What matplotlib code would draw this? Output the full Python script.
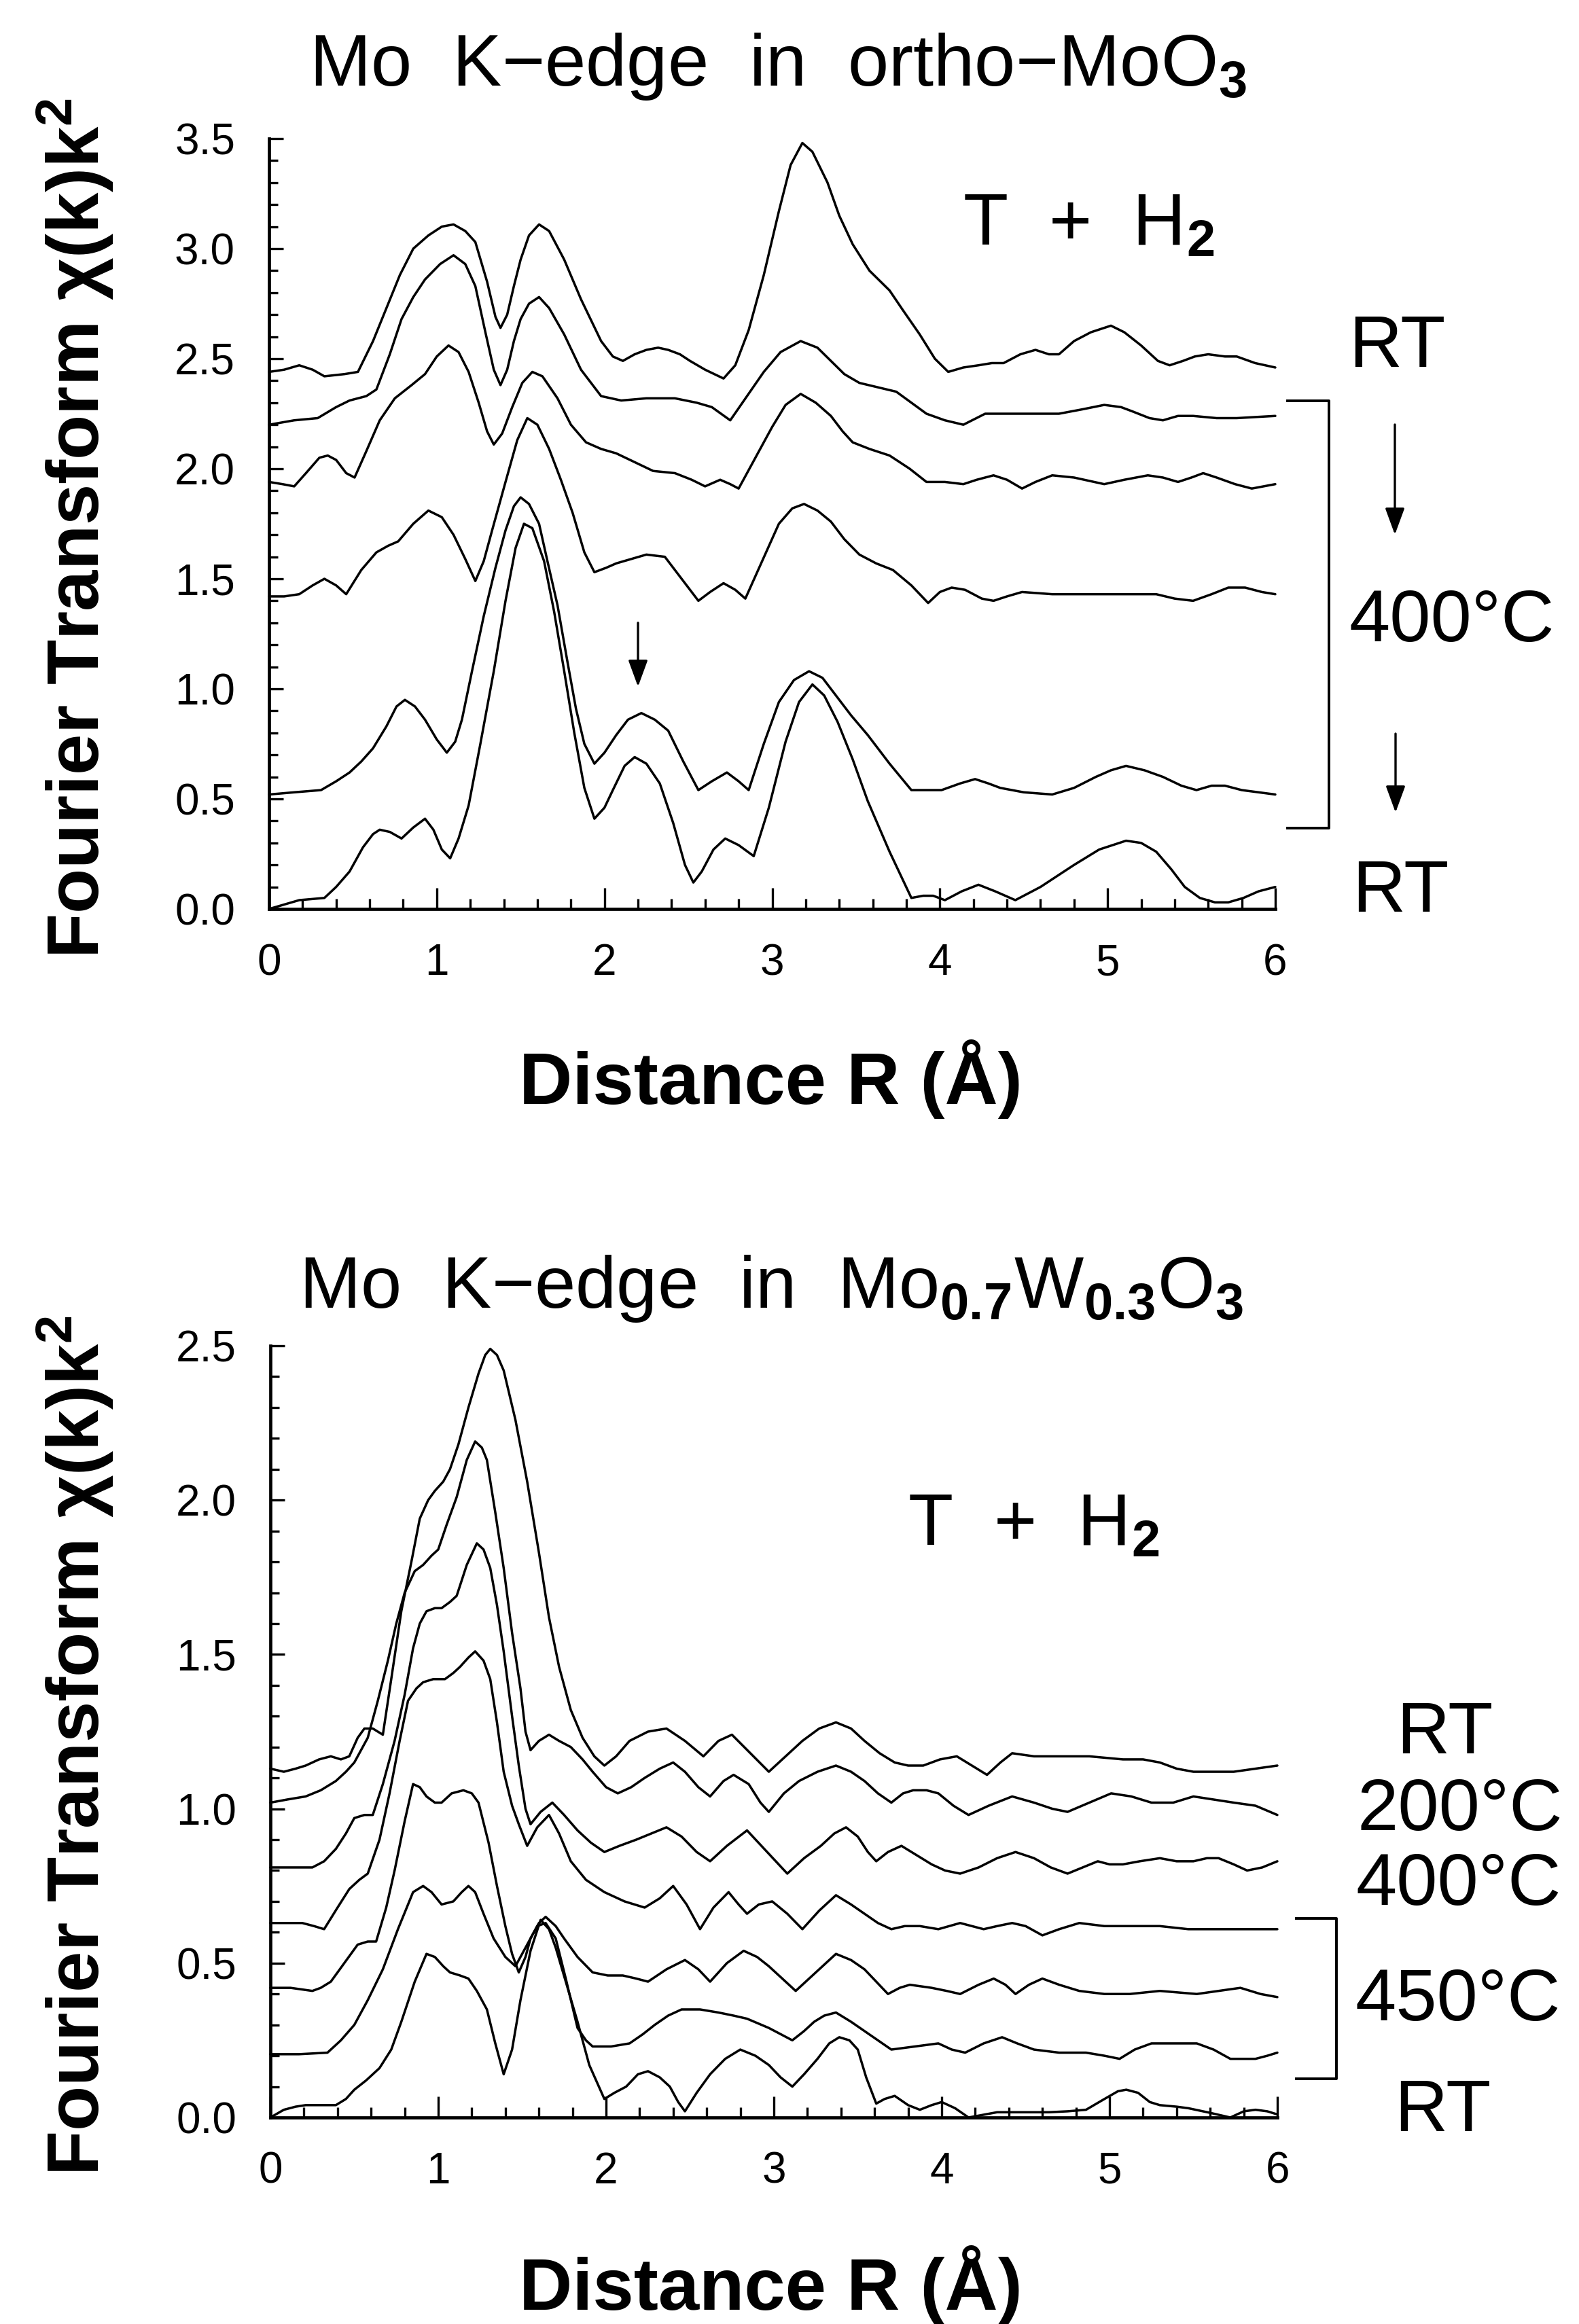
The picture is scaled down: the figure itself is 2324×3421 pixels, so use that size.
import matplotlib
matplotlib.use("Agg")
import matplotlib.pyplot as plt
from matplotlib.ticker import MultipleLocator, FormatStrFormatter
from matplotlib.lines import Line2D

plt.rcParams['font.family'] = ['Liberation Sans', 'DejaVu Sans']
plt.rcParams['mathtext.fontset'] = 'custom'
plt.rcParams['mathtext.rm'] = 'Liberation Sans'
plt.rcParams['mathtext.bf'] = 'Liberation Sans:bold'
plt.rcParams['mathtext.it'] = 'Liberation Sans:italic'

# ================= data: top panel (ortho-MoO3), R in Angstrom =================
t1_r = [0.00, 0.09, 0.18, 0.26, 0.33, 0.45, 0.53, 0.62, 0.70, 0.78, 0.86, 0.95, 1.03, 1.10, 1.17, 1.23,
        1.30, 1.35, 1.38, 1.42, 1.46, 1.50, 1.55, 1.61, 1.67, 1.76, 1.86, 1.98, 2.05, 2.11, 2.18, 2.25,
        2.32, 2.38, 2.45, 2.51, 2.60, 2.71, 2.78, 2.86, 2.95, 3.04, 3.11, 3.18, 3.24, 3.33, 3.40, 3.48,
        3.58, 3.70, 3.78, 3.88, 3.97, 4.05, 4.14, 4.23, 4.31, 4.38, 4.48, 4.57, 4.65, 4.71, 4.80, 4.90,
        5.02, 5.10, 5.20, 5.30, 5.37, 5.45, 5.52, 5.60, 5.70, 5.77, 5.88, 6.00]
t1_v = [2.44, 2.45, 2.47, 2.45, 2.42, 2.43, 2.44, 2.58, 2.73, 2.88, 3.00, 3.06, 3.10, 3.11, 3.08, 3.03,
        2.85, 2.69, 2.64, 2.70, 2.83, 2.95, 3.06, 3.11, 3.08, 2.95, 2.77, 2.58, 2.51, 2.49, 2.52, 2.54,
        2.55, 2.54, 2.52, 2.49, 2.45, 2.41, 2.47, 2.63, 2.88, 3.17, 3.38, 3.48, 3.44, 3.30, 3.15, 3.02,
        2.90, 2.81, 2.72, 2.61, 2.50, 2.44, 2.46, 2.47, 2.48, 2.48, 2.52, 2.54, 2.52, 2.52, 2.58, 2.62,
        2.65, 2.62, 2.56, 2.49, 2.47, 2.49, 2.51, 2.52, 2.51, 2.51, 2.48, 2.46]

t2_r = [0.00, 0.15, 0.29, 0.40, 0.48, 0.58, 0.64, 0.72, 0.79, 0.86, 0.93, 1.02, 1.10, 1.17, 1.23, 1.29,
        1.34, 1.38, 1.42, 1.46, 1.50, 1.55, 1.61, 1.67, 1.76, 1.86, 1.98, 2.10, 2.25, 2.42, 2.55, 2.64,
        2.75, 2.85, 2.95, 3.05, 3.17, 3.27, 3.35, 3.43, 3.52, 3.63, 3.74, 3.83, 3.92, 4.03, 4.14, 4.27,
        4.40, 4.54, 4.71, 4.85, 4.98, 5.08, 5.15, 5.25, 5.33, 5.42, 5.51, 5.65, 5.77, 6.00]
t2_v = [2.20, 2.22, 2.23, 2.28, 2.31, 2.33, 2.36, 2.52, 2.68, 2.78, 2.86, 2.93, 2.97, 2.93, 2.83, 2.62,
        2.45, 2.38, 2.45, 2.58, 2.68, 2.75, 2.78, 2.73, 2.61, 2.45, 2.33, 2.31, 2.32, 2.32, 2.30, 2.28,
        2.22, 2.33, 2.44, 2.53, 2.58, 2.55, 2.49, 2.43, 2.39, 2.37, 2.35, 2.30, 2.25, 2.22, 2.20, 2.25,
        2.25, 2.25, 2.25, 2.27, 2.29, 2.28, 2.26, 2.23, 2.22, 2.24, 2.24, 2.23, 2.23, 2.24]

t3_r = [0.00, 0.08, 0.15, 0.22, 0.30, 0.35, 0.40, 0.46, 0.51, 0.58, 0.66, 0.75, 0.85, 0.93, 1.00, 1.07,
        1.13, 1.19, 1.25, 1.30, 1.34, 1.39, 1.45, 1.51, 1.57, 1.63, 1.72, 1.80, 1.89, 1.98, 2.07, 2.18,
        2.29, 2.42, 2.52, 2.60, 2.69, 2.75, 2.80, 2.90, 3.00, 3.08, 3.17, 3.26, 3.35, 3.42, 3.48, 3.58,
        3.70, 3.82, 3.92, 4.03, 4.14, 4.22, 4.32, 4.40, 4.49, 4.57, 4.67, 4.80, 4.98, 5.10, 5.24, 5.33,
        5.42, 5.50, 5.57, 5.65, 5.76, 5.86, 6.00]
t3_v = [1.94, 1.93, 1.92, 1.98, 2.05, 2.06, 2.04, 1.98, 1.96, 2.08, 2.22, 2.32, 2.38, 2.43, 2.51, 2.56,
        2.53, 2.44, 2.30, 2.17, 2.11, 2.16, 2.28, 2.39, 2.44, 2.42, 2.32, 2.20, 2.12, 2.09, 2.07, 2.03,
        1.99, 1.98, 1.95, 1.92, 1.95, 1.93, 1.91, 2.05, 2.19, 2.29, 2.34, 2.30, 2.24, 2.17, 2.12, 2.09,
        2.06, 2.00, 1.94, 1.94, 1.93, 1.95, 1.97, 1.95, 1.91, 1.94, 1.97, 1.96, 1.93, 1.95, 1.97, 1.96,
        1.94, 1.96, 1.98, 1.96, 1.93, 1.91, 1.93]

t4_r = [0.00, 0.09, 0.18, 0.26, 0.33, 0.40, 0.46, 0.55, 0.64, 0.71, 0.77, 0.86, 0.95, 1.03, 1.10, 1.17,
        1.23, 1.28, 1.33, 1.41, 1.48, 1.54, 1.60, 1.67, 1.74, 1.81, 1.88, 1.94, 2.01, 2.07, 2.16, 2.25,
        2.36, 2.46, 2.56, 2.63, 2.71, 2.78, 2.84, 2.94, 3.04, 3.12, 3.19, 3.27, 3.35, 3.43, 3.52, 3.62,
        3.72, 3.83, 3.93, 4.00, 4.07, 4.15, 4.25, 4.32, 4.40, 4.49, 4.67, 4.90, 5.11, 5.29, 5.40, 5.51,
        5.62, 5.72, 5.82, 5.92, 6.00]
t4_v = [1.42, 1.42, 1.43, 1.47, 1.50, 1.47, 1.43, 1.54, 1.62, 1.65, 1.67, 1.75, 1.81, 1.78, 1.70, 1.59,
        1.49, 1.58, 1.72, 1.94, 2.13, 2.23, 2.20, 2.09, 1.95, 1.80, 1.62, 1.53, 1.55, 1.57, 1.59, 1.61,
        1.60, 1.50, 1.40, 1.44, 1.48, 1.45, 1.41, 1.58, 1.75, 1.82, 1.84, 1.81, 1.76, 1.68, 1.61, 1.57,
        1.54, 1.47, 1.39, 1.44, 1.46, 1.45, 1.41, 1.40, 1.42, 1.44, 1.43, 1.43, 1.43, 1.43, 1.41, 1.40,
        1.43, 1.46, 1.46, 1.44, 1.43]

t5_r = [0.00, 0.15, 0.31, 0.40, 0.48, 0.55, 0.62, 0.70, 0.76, 0.81, 0.87, 0.93, 1.00, 1.06, 1.11, 1.15,
        1.21, 1.28, 1.35, 1.41, 1.46, 1.50, 1.55, 1.61, 1.66, 1.72, 1.78, 1.83, 1.88, 1.94, 2.00, 2.07,
        2.14, 2.22, 2.30, 2.38, 2.47, 2.56, 2.64, 2.73, 2.80, 2.86, 2.95, 3.04, 3.13, 3.22, 3.30, 3.37,
        3.47, 3.57, 3.70, 3.83, 3.92, 4.01, 4.12, 4.21, 4.29, 4.36, 4.50, 4.67, 4.80, 4.93, 5.02, 5.11,
        5.22, 5.33, 5.44, 5.53, 5.62, 5.70, 5.80, 5.90, 6.00]
t5_v = [0.52, 0.53, 0.54, 0.58, 0.62, 0.67, 0.73, 0.83, 0.92, 0.95, 0.92, 0.86, 0.77, 0.71, 0.76, 0.86,
        1.08, 1.33, 1.55, 1.72, 1.83, 1.87, 1.84, 1.75, 1.58, 1.38, 1.12, 0.91, 0.75, 0.66, 0.71, 0.79,
        0.86, 0.89, 0.86, 0.81, 0.67, 0.54, 0.58, 0.62, 0.58, 0.54, 0.75, 0.94, 1.04, 1.08, 1.05, 0.98,
        0.88, 0.79, 0.66, 0.54, 0.54, 0.54, 0.57, 0.59, 0.57, 0.55, 0.53, 0.52, 0.55, 0.60, 0.63, 0.65,
        0.63, 0.60, 0.56, 0.54, 0.56, 0.56, 0.54, 0.53, 0.52]

t6_r = [0.00, 0.09, 0.18, 0.33, 0.40, 0.48, 0.56, 0.62, 0.66, 0.72, 0.79, 0.86, 0.93, 0.98, 1.03, 1.08,
        1.13, 1.19, 1.26, 1.34, 1.41, 1.47, 1.52, 1.57, 1.64, 1.70, 1.76, 1.82, 1.88, 1.94, 2.00, 2.05,
        2.12, 2.18, 2.25, 2.33, 2.41, 2.48, 2.53, 2.58, 2.65, 2.72, 2.80, 2.89, 2.98, 3.08, 3.16, 3.24,
        3.31, 3.39, 3.48, 3.57, 3.70, 3.83, 3.90, 3.96, 4.03, 4.13, 4.23, 4.33, 4.45, 4.60, 4.80, 4.95,
        5.11, 5.20, 5.29, 5.38, 5.46, 5.55, 5.64, 5.72, 5.81, 5.90, 6.00]
t6_v = [0.00, 0.02, 0.04, 0.05, 0.10, 0.17, 0.28, 0.34, 0.36, 0.35, 0.32, 0.37, 0.41, 0.36, 0.27, 0.23,
        0.32, 0.47, 0.75, 1.08, 1.40, 1.64, 1.75, 1.73, 1.58, 1.35, 1.08, 0.80, 0.55, 0.41, 0.46, 0.54,
        0.65, 0.69, 0.66, 0.57, 0.39, 0.20, 0.12, 0.17, 0.27, 0.32, 0.29, 0.24, 0.46, 0.76, 0.94, 1.02,
        0.97, 0.85, 0.68, 0.49, 0.26, 0.05, 0.06, 0.06, 0.04, 0.08, 0.11, 0.08, 0.04, 0.10, 0.20, 0.27,
        0.31, 0.30, 0.26, 0.18, 0.10, 0.05, 0.03, 0.03, 0.05, 0.08, 0.10]

# ================= data: bottom panel (Mo0.7W0.3O3) =================
b1_r = [0.00, 0.08, 0.15, 0.21, 0.29, 0.36, 0.42, 0.47, 0.52, 0.56, 0.61, 0.67, 0.72, 0.78, 0.84, 0.89,
        0.94, 0.98, 1.03, 1.07, 1.12, 1.18, 1.24, 1.28, 1.31, 1.35, 1.39, 1.46, 1.53, 1.60, 1.66, 1.72,
        1.79, 1.86, 1.93, 1.99, 2.06, 2.14, 2.25, 2.36, 2.47, 2.58, 2.67, 2.75, 2.86, 2.97, 3.07, 3.17,
        3.27, 3.37, 3.46, 3.54, 3.63, 3.72, 3.80, 3.89, 3.99, 4.09, 4.18, 4.27, 4.35, 4.42, 4.55, 4.68,
        4.88, 5.08, 5.20, 5.30, 5.40, 5.50, 5.62, 5.74, 5.87, 6.00]
b1_v = [1.13, 1.12, 1.13, 1.14, 1.16, 1.17, 1.16, 1.17, 1.23, 1.26, 1.26, 1.24, 1.42, 1.64, 1.80, 1.94,
        2.00, 2.03, 2.06, 2.10, 2.18, 2.30, 2.41, 2.47, 2.49, 2.47, 2.42, 2.26, 2.06, 1.83, 1.62, 1.46,
        1.32, 1.23, 1.17, 1.14, 1.17, 1.22, 1.25, 1.26, 1.22, 1.17, 1.22, 1.24, 1.18, 1.12, 1.17, 1.22,
        1.26, 1.28, 1.26, 1.22, 1.18, 1.15, 1.14, 1.14, 1.16, 1.17, 1.14, 1.11, 1.15, 1.18, 1.17, 1.17,
        1.17, 1.16, 1.16, 1.15, 1.13, 1.12, 1.12, 1.12, 1.13, 1.14]

b2_r = [0.00, 0.10, 0.21, 0.30, 0.39, 0.45, 0.50, 0.54, 0.58, 0.64, 0.70, 0.75, 0.80, 0.86, 0.91, 0.96,
        1.00, 1.05, 1.11, 1.17, 1.22, 1.26, 1.29, 1.34, 1.39, 1.44, 1.49, 1.52, 1.55, 1.60, 1.66, 1.72,
        1.79, 1.86, 1.92, 2.00, 2.07, 2.15, 2.23, 2.32, 2.40, 2.47, 2.55, 2.62, 2.70, 2.76, 2.85, 2.92,
        2.97, 3.06, 3.15, 3.26, 3.37, 3.46, 3.54, 3.62, 3.70, 3.77, 3.83, 3.91, 3.98, 4.07, 4.16, 4.28,
        4.42, 4.55, 4.66, 4.75, 4.88, 5.01, 5.13, 5.25, 5.38, 5.50, 5.62, 5.74, 5.87, 6.00]
b2_v = [1.02, 1.03, 1.04, 1.06, 1.09, 1.12, 1.15, 1.19, 1.23, 1.35, 1.48, 1.60, 1.70, 1.77, 1.79, 1.82,
        1.84, 1.92, 2.01, 2.13, 2.19, 2.17, 2.13, 1.96, 1.78, 1.57, 1.39, 1.25, 1.19, 1.22, 1.24, 1.22,
        1.20, 1.16, 1.12, 1.07, 1.05, 1.07, 1.10, 1.13, 1.15, 1.12, 1.07, 1.04, 1.09, 1.11, 1.08, 1.02,
        0.99, 1.05, 1.09, 1.12, 1.14, 1.12, 1.09, 1.05, 1.02, 1.05, 1.06, 1.06, 1.05, 1.01, 0.98, 1.01,
        1.04, 1.02, 1.00, 0.99, 1.02, 1.05, 1.04, 1.02, 1.02, 1.04, 1.03, 1.02, 1.01, 0.98]

b3_r = [0.00, 0.12, 0.25, 0.32, 0.39, 0.45, 0.50, 0.56, 0.61, 0.67, 0.74, 0.80, 0.85, 0.89, 0.93, 0.98,
        1.02, 1.07, 1.11, 1.17, 1.23, 1.27, 1.31, 1.35, 1.39, 1.44, 1.48, 1.52, 1.55, 1.61, 1.68, 1.75,
        1.83, 1.91, 1.99, 2.08, 2.18, 2.27, 2.36, 2.45, 2.54, 2.62, 2.72, 2.84, 2.96, 3.08, 3.18, 3.28,
        3.36, 3.43, 3.50, 3.56, 3.61, 3.68, 3.76, 3.85, 3.94, 4.02, 4.11, 4.22, 4.33, 4.44, 4.55, 4.65,
        4.75, 4.84, 4.93, 5.00, 5.08, 5.18, 5.30, 5.40, 5.50, 5.58, 5.65, 5.74, 5.82, 5.91, 6.00]
b3_v = [0.81, 0.81, 0.81, 0.83, 0.87, 0.92, 0.97, 0.98, 0.98, 1.08, 1.22, 1.37, 1.52, 1.60, 1.64, 1.65,
        1.65, 1.67, 1.69, 1.79, 1.86, 1.84, 1.78, 1.66, 1.51, 1.30, 1.14, 1.00, 0.95, 0.99, 1.02, 0.98,
        0.93, 0.89, 0.86, 0.88, 0.90, 0.92, 0.94, 0.91, 0.86, 0.83, 0.88, 0.93, 0.86, 0.79, 0.84, 0.88,
        0.92, 0.94, 0.91, 0.86, 0.83, 0.86, 0.88, 0.85, 0.82, 0.80, 0.79, 0.81, 0.84, 0.86, 0.84, 0.81,
        0.79, 0.81, 0.83, 0.82, 0.82, 0.83, 0.84, 0.83, 0.83, 0.84, 0.84, 0.82, 0.80, 0.81, 0.83]

b4_r = [0.00, 0.10, 0.19, 0.26, 0.32, 0.40, 0.47, 0.53, 0.58, 0.65, 0.71, 0.77, 0.82, 0.87, 0.91, 0.97,
        1.04, 1.09, 1.13, 1.18, 1.22, 1.27, 1.31, 1.35, 1.39, 1.44, 1.48, 1.53, 1.59, 1.66, 1.72, 1.79,
        1.88, 1.99, 2.11, 2.23, 2.32, 2.40, 2.48, 2.56, 2.64, 2.73, 2.79, 2.84, 2.91, 2.99, 3.08, 3.17,
        3.27, 3.37, 3.46, 3.54, 3.62, 3.70, 3.78, 3.87, 3.98, 4.11, 4.25, 4.33, 4.42, 4.50, 4.60, 4.70,
        4.82, 4.97, 5.12, 5.30, 5.47, 5.60, 5.74, 5.87, 6.00]
b4_v = [0.63, 0.63, 0.63, 0.62, 0.61, 0.68, 0.74, 0.77, 0.79, 0.90, 1.05, 1.22, 1.35, 1.39, 1.41, 1.42,
        1.42, 1.44, 1.46, 1.49, 1.51, 1.48, 1.42, 1.28, 1.12, 1.01, 0.95, 0.88, 0.94, 0.98, 0.92, 0.83,
        0.77, 0.73, 0.70, 0.68, 0.71, 0.75, 0.69, 0.61, 0.68, 0.73, 0.69, 0.66, 0.69, 0.70, 0.66, 0.61,
        0.67, 0.72, 0.69, 0.66, 0.63, 0.61, 0.62, 0.62, 0.61, 0.63, 0.61, 0.62, 0.63, 0.62, 0.59, 0.61,
        0.63, 0.62, 0.62, 0.62, 0.61, 0.61, 0.61, 0.61, 0.61]

b5_r = [0.00, 0.12, 0.25, 0.30, 0.36, 0.44, 0.52, 0.58, 0.63, 0.69, 0.74, 0.80, 0.85, 0.89, 0.93, 0.98,
        1.02, 1.08, 1.15, 1.20, 1.24, 1.30, 1.35, 1.40, 1.44, 1.48, 1.52, 1.55, 1.60, 1.64, 1.70, 1.75,
        1.83, 1.92, 2.01, 2.10, 2.18, 2.25, 2.36, 2.47, 2.55, 2.62, 2.72, 2.82, 2.90, 2.97, 3.05, 3.13,
        3.25, 3.37, 3.46, 3.54, 3.61, 3.68, 3.75, 3.81, 3.94, 4.03, 4.11, 4.22, 4.31, 4.38, 4.44, 4.52,
        4.60, 4.70, 4.82, 4.97, 5.12, 5.30, 5.52, 5.65, 5.78, 5.90, 6.00]
b5_v = [0.42, 0.42, 0.41, 0.42, 0.44, 0.50, 0.56, 0.57, 0.57, 0.68, 0.80, 0.96, 1.08, 1.07, 1.04, 1.02,
        1.02, 1.05, 1.06, 1.05, 1.02, 0.89, 0.75, 0.62, 0.53, 0.47, 0.52, 0.58, 0.63, 0.65, 0.62, 0.58,
        0.52, 0.47, 0.46, 0.46, 0.45, 0.44, 0.48, 0.51, 0.48, 0.44, 0.50, 0.54, 0.52, 0.49, 0.45, 0.41,
        0.47, 0.53, 0.51, 0.48, 0.44, 0.40, 0.42, 0.43, 0.42, 0.41, 0.40, 0.43, 0.45, 0.43, 0.40, 0.43,
        0.45, 0.43, 0.41, 0.40, 0.40, 0.41, 0.40, 0.41, 0.42, 0.40, 0.39]

b6_r = [0.00, 0.17, 0.34, 0.42, 0.50, 0.58, 0.67, 0.76, 0.85, 0.91, 0.96, 1.02, 1.09, 1.14, 1.18, 1.22,
        1.27, 1.33, 1.40, 1.46, 1.52, 1.59, 1.64, 1.70, 1.76, 1.83, 1.88, 1.92, 2.03, 2.14, 2.22, 2.29,
        2.37, 2.45, 2.56, 2.67, 2.76, 2.84, 2.97, 3.11, 3.18, 3.24, 3.30, 3.37, 3.46, 3.54, 3.62, 3.70,
        3.84, 3.98, 4.06, 4.14, 4.25, 4.36, 4.45, 4.55, 4.70, 4.86, 4.97, 5.06, 5.15, 5.25, 5.40, 5.52,
        5.62, 5.72, 5.80, 5.87, 5.94, 6.00]
b6_v = [0.205, 0.205, 0.21, 0.25, 0.30, 0.38, 0.48, 0.61, 0.73, 0.75, 0.73, 0.69, 0.70, 0.73, 0.75, 0.73,
        0.66, 0.58, 0.52, 0.49, 0.55, 0.62, 0.63, 0.58, 0.45, 0.29, 0.25, 0.23, 0.23, 0.24, 0.27, 0.30,
        0.33, 0.35, 0.35, 0.34, 0.33, 0.32, 0.29, 0.25, 0.28, 0.31, 0.33, 0.34, 0.31, 0.28, 0.25, 0.22,
        0.23, 0.24, 0.22, 0.21, 0.24, 0.26, 0.24, 0.22, 0.21, 0.21, 0.20, 0.19, 0.22, 0.24, 0.24, 0.24,
        0.22, 0.19, 0.19, 0.19, 0.20, 0.21]

b7_r = [0.00, 0.08, 0.15, 0.21, 0.30, 0.39, 0.45, 0.50, 0.57, 0.65, 0.72, 0.78, 0.86, 0.93, 0.98, 1.03,
        1.07, 1.13, 1.18, 1.23, 1.29, 1.34, 1.39, 1.44, 1.49, 1.55, 1.61, 1.66, 1.70, 1.76, 1.83, 1.90,
        1.99, 2.05, 2.12, 2.19, 2.25, 2.32, 2.38, 2.43, 2.47, 2.54, 2.62, 2.71, 2.80, 2.89, 2.97, 3.04,
        3.11, 3.18, 3.26, 3.33, 3.39, 3.45, 3.50, 3.55, 3.61, 3.66, 3.72, 3.80, 3.87, 3.94, 4.00, 4.08,
        4.16, 4.33, 4.50, 4.64, 4.75, 4.86, 4.97, 5.05, 5.10, 5.17, 5.24, 5.30, 5.40, 5.47, 5.60, 5.72,
        5.80, 5.87, 5.94, 6.00]
b7_v = [0.00, 0.025, 0.035, 0.04, 0.04, 0.04, 0.06, 0.09, 0.12, 0.16, 0.22, 0.31, 0.44, 0.53, 0.52, 0.49,
        0.47, 0.46, 0.45, 0.41, 0.35, 0.24, 0.14, 0.22, 0.38, 0.54, 0.64, 0.61, 0.55, 0.44, 0.31, 0.17,
        0.06, 0.08, 0.10, 0.14, 0.15, 0.13, 0.10, 0.05, 0.02, 0.08, 0.14, 0.19, 0.22, 0.20, 0.17, 0.13,
        0.10, 0.14, 0.19, 0.24, 0.26, 0.25, 0.22, 0.13, 0.045, 0.06, 0.07, 0.04, 0.025, 0.04, 0.05, 0.03,
        0.00, 0.017, 0.017, 0.017, 0.02, 0.025, 0.06, 0.085, 0.09, 0.08, 0.05, 0.04, 0.035, 0.03, 0.015, 0.00,
        0.02, 0.025, 0.02, 0.01]

top_curves = [(t1_r, t1_v), (t2_r, t2_v), (t3_r, t3_v), (t4_r, t4_v), (t5_r, t5_v), (t6_r, t6_v)]
bot_curves = [(b1_r, b1_v), (b2_r, b2_v), (b3_r, b3_v), (b4_r, b4_v), (b5_r, b5_v), (b6_r, b6_v),
              (b7_r, b7_v)]

x_ticks = [0, 1, 2, 3, 4, 5, 6]
top_yticks = [0.0, 0.5, 1.0, 1.5, 2.0, 2.5, 3.0, 3.5]
bot_yticks = [0.0, 0.5, 1.0, 1.5, 2.0, 2.5]

top_title = r'Mo  K−edge  in  ortho−MoO$_\mathbf{3}$'
bot_title = r'Mo  K−edge  in  Mo$_\mathbf{0.7}$W$_\mathbf{0.3}$O$_\mathbf{3}$'
ylab = r'Fourier Transform χ(k)k$^\mathbf{2}$'
xlab = 'Distance R (Å)'
treat = r'T  +  H$_\mathbf{2}$'
top_labels = ['RT', '400°C', 'RT']
bot_labels = ['RT', '200°C', '400°C', '450°C', 'RT']

# ================= figure =================
W, H = 2324, 3421
fig = plt.figure(figsize=(W / 100, H / 100), dpi=100)
fig.patch.set_facecolor('white')


def fx(px):
    return px / W


def fy(py):
    return 1 - py / H


def make_axes(x0, x1, y0px, y1px, ymax, yticks, curves):
    ax = fig.add_axes([fx(x0), fy(y0px), fx(x1) - fx(x0), (y0px - y1px) / H])
    for r, v in curves:
        ax.plot(r, v, color='black', lw=2.5, clip_on=False,
                solid_joinstyle='round', solid_capstyle='round')
    ax.set_xlim(0, 6)
    ax.set_ylim(0, ymax)
    ax.set_xticks(x_ticks)
    ax.set_yticks(yticks)
    ax.yaxis.set_major_formatter(FormatStrFormatter('%.1f'))
    ax.xaxis.set_minor_locator(MultipleLocator(0.2))
    ax.yaxis.set_minor_locator(MultipleLocator(0.1))
    for s in ['top', 'right']:
        ax.spines[s].set_visible(False)
    for s in ['left', 'bottom']:
        ax.spines[s].set_linewidth(3.4)
    ax.tick_params(axis='both', which='both', direction='in', labelsize=46, width=2.4)
    ax.tick_params(axis='x', which='major', length=22, pad=36)
    ax.tick_params(axis='x', which='minor', length=11)
    ax.tick_params(axis='y', which='major', length=15, pad=36)
    ax.tick_params(axis='y', which='minor', length=9)
    ax.patch.set_alpha(0)
    return ax


ax1 = make_axes(396, 1877, 1338, 204, 3.5, top_yticks, top_curves)
ax2 = make_axes(398, 1880, 3117, 1981, 2.5, bot_yticks, bot_curves)

FS = 78
# titles
fig.text(fx(1145), fy(126), top_title, fontsize=FS, ha='center', va='baseline')
fig.text(fx(1135), fy(1925), bot_title, fontsize=FS, ha='center', va='baseline')
# x labels
fig.text(fx(1134), fy(1625), xlab, fontsize=FS, fontweight='bold', ha='center', va='baseline')
fig.text(fx(1134), fy(3400), xlab, fontsize=FS, fontweight='bold', ha='center', va='baseline')
# y labels
fig.text(fx(147), fy(778), ylab, fontsize=FS, fontweight='bold', rotation=90,
         rotation_mode='anchor', ha='center', va='baseline')
fig.text(fx(147), fy(2570), ylab, fontsize=FS, fontweight='bold', rotation=90,
         rotation_mode='anchor', ha='center', va='baseline')
# treatment text
fig.text(fx(1417), fy(361), treat, fontsize=FS, ha='left', va='baseline')
fig.text(fx(1336), fy(2275), treat, fontsize=FS, ha='left', va='baseline')

# right-hand labels, top panel
for lab, xb, yb in zip(top_labels, [1985, 1986, 1990], [540, 944, 1342]):
    fig.text(fx(xb), fy(yb), lab, fontsize=FS, ha='left', va='baseline')
# right-hand labels, bottom panel
for lab, xc, yb in zip(bot_labels, [2126, 2149, 2147, 2146, 2123], [2581, 2694, 2804, 2974, 3137]):
    fig.text(fx(xc), fy(yb), lab, fontsize=FS, ha='center', va='baseline')


# brackets
def bracket(x0, x1, y0, y1):
    fig.add_artist(Line2D([fx(x0), fx(x1), fx(x1), fx(x0)], [fy(y0), fy(y0), fy(y1), fy(y1)],
                          color='black', lw=2.8, transform=fig.transFigure))


bracket(1895, 1956, 590, 1219)
bracket(1908, 1967, 2824, 3060)

# arrows
aprops = dict(arrowstyle='-|>,head_length=0.6,head_width=0.22', lw=2.4, color='black',
              mutation_scale=40, shrinkA=0, shrinkB=0)
for (xa, ya0, ya1) in [(2053, 625, 787), (2054, 1080, 1196)]:
    ax1.annotate('', xy=(fx(xa), fy(ya1)), xycoords='figure fraction',
                 xytext=(fx(xa), fy(ya0)), textcoords='figure fraction',
                 arrowprops=aprops, annotation_clip=False)
ax1.annotate('', xy=(2.2, 1.01), xytext=(2.2, 1.30), arrowprops=aprops, annotation_clip=False)

fig.savefig('out.png', dpi=100, facecolor='white')
